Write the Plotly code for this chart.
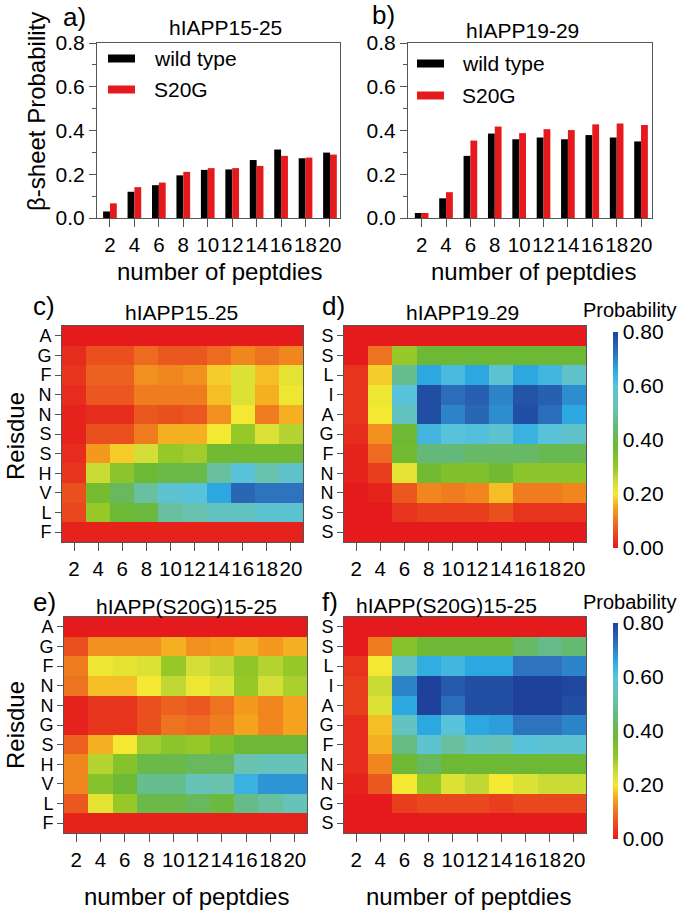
import plotly.graph_objects as go

W, H = 685, 913

# ---------------- data ----------------
peptides = [2, 4, 6, 8, 10, 12, 14, 16, 18, 20]

wt_15_25 = [0.030, 0.120, 0.150, 0.195, 0.220, 0.222, 0.265, 0.313, 0.273, 0.299]
s20g_15_25 = [0.067, 0.141, 0.162, 0.211, 0.228, 0.228, 0.238, 0.284, 0.276, 0.290]
wt_19_29 = [0.023, 0.090, 0.284, 0.386, 0.360, 0.368, 0.360, 0.379, 0.368, 0.350]
s20g_19_29 = [0.023, 0.118, 0.354, 0.418, 0.388, 0.406, 0.402, 0.428, 0.432, 0.425]

res_15_25 = ["A", "G", "F", "N", "N", "S", "S", "H", "V", "L", "F"]
res_19_29 = ["S", "S", "L", "I", "A", "G", "F", "N", "N", "S", "S"]
res_s20g_15_25 = ["A", "G", "F", "N", "N", "G", "S", "H", "V", "L", "F"]
res_s20g_19_29 = ["S", "S", "L", "I", "A", "G", "F", "N", "N", "G", "S"]

heat_15_25 = [
    [0.00, 0.00, 0.00, 0.00, 0.00, 0.00, 0.00, 0.00, 0.00, 0.00],
    [0.02, 0.06, 0.06, 0.09, 0.07, 0.07, 0.09, 0.12, 0.10, 0.12],
    [0.03, 0.08, 0.08, 0.13, 0.12, 0.13, 0.18, 0.23, 0.17, 0.22],
    [0.02, 0.07, 0.07, 0.11, 0.11, 0.11, 0.17, 0.23, 0.16, 0.21],
    [0.01, 0.02, 0.02, 0.07, 0.06, 0.07, 0.13, 0.20, 0.11, 0.16],
    [0.01, 0.06, 0.06, 0.11, 0.16, 0.16, 0.20, 0.30, 0.23, 0.27],
    [0.02, 0.14, 0.18, 0.24, 0.30, 0.29, 0.37, 0.37, 0.37, 0.37],
    [0.03, 0.25, 0.32, 0.38, 0.40, 0.40, 0.50, 0.60, 0.52, 0.57],
    [0.06, 0.36, 0.42, 0.50, 0.58, 0.60, 0.66, 0.74, 0.72, 0.72],
    [0.05, 0.30, 0.38, 0.39, 0.50, 0.52, 0.55, 0.55, 0.58, 0.58],
    [0.01, 0.01, 0.01, 0.01, 0.01, 0.01, 0.01, 0.01, 0.01, 0.01],
]

heat_19_29 = [
    [0.00, 0.00, 0.00, 0.00, 0.00, 0.00, 0.00, 0.00, 0.00, 0.00],
    [0.00, 0.10, 0.30, 0.38, 0.38, 0.38, 0.38, 0.38, 0.38, 0.38],
    [0.03, 0.18, 0.48, 0.66, 0.62, 0.66, 0.58, 0.66, 0.63, 0.57],
    [0.03, 0.21, 0.60, 0.78, 0.73, 0.75, 0.70, 0.77, 0.75, 0.69],
    [0.03, 0.20, 0.55, 0.78, 0.70, 0.74, 0.69, 0.78, 0.73, 0.66],
    [0.02, 0.13, 0.38, 0.63, 0.60, 0.61, 0.58, 0.64, 0.60, 0.57],
    [0.01, 0.09, 0.37, 0.45, 0.45, 0.43, 0.43, 0.43, 0.41, 0.41],
    [0.01, 0.04, 0.22, 0.37, 0.34, 0.34, 0.37, 0.32, 0.32, 0.32],
    [0.00, 0.01, 0.07, 0.12, 0.11, 0.12, 0.17, 0.11, 0.11, 0.12],
    [0.00, 0.00, 0.03, 0.04, 0.04, 0.04, 0.06, 0.03, 0.03, 0.03],
    [0.00, 0.00, 0.00, 0.00, 0.00, 0.00, 0.00, 0.00, 0.00, 0.00],
]

heat_s20g_15_25 = [
    [0.00, 0.00, 0.00, 0.00, 0.00, 0.00, 0.00, 0.00, 0.00, 0.00],
    [0.06, 0.13, 0.13, 0.13, 0.16, 0.13, 0.14, 0.16, 0.14, 0.16],
    [0.11, 0.21, 0.22, 0.23, 0.30, 0.24, 0.26, 0.31, 0.27, 0.30],
    [0.10, 0.17, 0.17, 0.20, 0.26, 0.21, 0.23, 0.30, 0.24, 0.28],
    [0.01, 0.03, 0.03, 0.06, 0.08, 0.07, 0.10, 0.14, 0.12, 0.15],
    [0.01, 0.03, 0.03, 0.06, 0.10, 0.09, 0.11, 0.15, 0.12, 0.15],
    [0.08, 0.16, 0.20, 0.29, 0.32, 0.30, 0.34, 0.38, 0.38, 0.38],
    [0.12, 0.27, 0.33, 0.40, 0.40, 0.42, 0.42, 0.52, 0.54, 0.54],
    [0.12, 0.33, 0.38, 0.48, 0.48, 0.53, 0.52, 0.64, 0.68, 0.68],
    [0.07, 0.22, 0.30, 0.40, 0.40, 0.42, 0.39, 0.47, 0.50, 0.54],
    [0.01, 0.01, 0.01, 0.01, 0.01, 0.01, 0.01, 0.01, 0.01, 0.01],
]

heat_s20g_19_29 = [
    [0.00, 0.00, 0.00, 0.00, 0.00, 0.00, 0.00, 0.00, 0.00, 0.00],
    [0.00, 0.11, 0.33, 0.38, 0.38, 0.38, 0.38, 0.43, 0.47, 0.44],
    [0.03, 0.20, 0.55, 0.65, 0.63, 0.66, 0.66, 0.72, 0.72, 0.70],
    [0.04, 0.25, 0.70, 0.80, 0.76, 0.78, 0.78, 0.80, 0.80, 0.79],
    [0.04, 0.23, 0.66, 0.80, 0.73, 0.78, 0.78, 0.80, 0.80, 0.78],
    [0.02, 0.17, 0.55, 0.66, 0.60, 0.66, 0.67, 0.72, 0.72, 0.70],
    [0.02, 0.16, 0.46, 0.58, 0.50, 0.55, 0.54, 0.60, 0.58, 0.58],
    [0.02, 0.12, 0.38, 0.42, 0.38, 0.38, 0.38, 0.38, 0.38, 0.38],
    [0.01, 0.07, 0.20, 0.30, 0.23, 0.26, 0.20, 0.23, 0.25, 0.25],
    [0.00, 0.00, 0.04, 0.05, 0.05, 0.05, 0.04, 0.05, 0.05, 0.05],
    [0.00, 0.00, 0.00, 0.00, 0.00, 0.00, 0.00, 0.00, 0.00, 0.00],
]

prob_ticks = [0.0, 0.2, 0.4, 0.6, 0.8]
bar_ticks = [0.0, 0.2, 0.4, 0.6, 0.8]

# ---------------- style ----------------
FONT = "Liberation Sans, Arial, sans-serif"
RED = "#e41a1c"
FRAME = "#555555"

colorscale = [
    [0.000, "rgb(228,26,28)"],
    [0.125, "rgb(238,115,32)"],
    [0.190, "rgb(245,165,30)"],
    [0.250, "rgb(245,232,50)"],
    [0.310, "rgb(205,220,55)"],
    [0.375, "rgb(150,200,40)"],
    [0.470, "rgb(110,185,50)"],
    [0.560, "rgb(100,185,120)"],
    [0.650, "rgb(105,195,175)"],
    [0.750, "rgb(90,195,220)"],
    [0.820, "rgb(45,170,225)"],
    [0.900, "rgb(45,115,190)"],
    [1.000, "rgb(30,65,155)"],
]


def fx(px):
    return px / W


def fy(py):
    return 1 - py / H


fig = go.Figure()

# bar charts
fig.add_trace(go.Bar(x=peptides, y=wt_15_25, marker=dict(color="black", line_width=0),
                     xaxis="x", yaxis="y", name="wild type", showlegend=False))
fig.add_trace(go.Bar(x=peptides, y=s20g_15_25, marker=dict(color=RED, line_width=0),
                     xaxis="x", yaxis="y", name="S20G", showlegend=False))
fig.add_trace(go.Bar(x=peptides, y=wt_19_29, marker=dict(color="black", line_width=0),
                     xaxis="x2", yaxis="y2", name="wild type", showlegend=False))
fig.add_trace(go.Bar(x=peptides, y=s20g_19_29, marker=dict(color=RED, line_width=0),
                     xaxis="x2", yaxis="y2", name="S20G", showlegend=False))

# heatmaps
rows = list(range(11))
fig.add_trace(go.Heatmap(x=peptides, y=rows, z=heat_15_25, coloraxis="coloraxis",
                         xaxis="x3", yaxis="y3"))
fig.add_trace(go.Heatmap(x=peptides, y=rows, z=heat_19_29, coloraxis="coloraxis",
                         xaxis="x4", yaxis="y4"))
fig.add_trace(go.Heatmap(x=peptides, y=rows, z=heat_s20g_15_25, coloraxis="coloraxis2",
                         xaxis="x5", yaxis="y5"))
fig.add_trace(go.Heatmap(x=peptides, y=rows, z=heat_s20g_19_29, coloraxis="coloraxis2",
                         xaxis="x6", yaxis="y6"))

tickfont = dict(family=FONT, size=21, color="black")
xtickfont = dict(family=FONT, size=20.5, color="black")


def bar_x(domain, rng, anchor):
    return dict(domain=[fx(domain[0]), fx(domain[1])], range=rng, tickvals=peptides,
                ticks="outside", ticklen=8, tickcolor=FRAME, tickangle=0,
                showline=True, linecolor=FRAME, linewidth=1, mirror=True, automargin=False,
                showgrid=False, zeroline=False, tickfont=xtickfont, anchor=anchor)


def bar_y(domain, anchor):
    return dict(domain=[fy(domain[1]), fy(domain[0])], range=[0, 0.8], tickvals=bar_ticks,
                tickformat=".1f", ticks="outside", ticklen=7, tickcolor=FRAME,
                minor=dict(dtick=0.1, ticks="outside", ticklen=4, tickcolor=FRAME),
                showline=True, linecolor=FRAME, linewidth=1, mirror=True, automargin=False,
                showgrid=False, zeroline=False, tickfont=tickfont, anchor=anchor)


def heat_x(domain, anchor):
    return dict(domain=[fx(domain[0]), fx(domain[1])], range=[1, 21], tickvals=peptides,
                ticks="outside", ticklen=8, tickcolor=FRAME, tickangle=0,
                showline=True, linecolor=FRAME, linewidth=1, mirror=True, automargin=False,
                showgrid=False, zeroline=False, tickfont=xtickfont, anchor=anchor)


def heat_y(domain, labels, anchor):
    return dict(domain=[fy(domain[1]), fy(domain[0])], range=[10.5, -0.5], tickvals=rows,
                ticktext=labels, ticks="outside", ticklen=6, tickcolor=FRAME,
                showline=True, linecolor=FRAME, linewidth=1, mirror=True, automargin=False,
                showgrid=False, zeroline=False,
                tickfont=dict(family=FONT, size=18, color="black"), anchor=anchor)


def cbar(ycenter):
    return dict(colorscale=colorscale, cmin=0, cmax=0.8,
                colorbar=dict(x=fx(613), xanchor="left", xpad=0, ypad=0,
                              y=fy(ycenter), yanchor="middle", len=216, lenmode="pixels",
                              thickness=5, outlinewidth=0, tickvals=prob_ticks,
                              tickformat=".2f", ticks="", tickfont=tickfont))


fig.update_layout(
    template="none",
    width=W, height=H,
    autosize=False,
    margin=dict(l=0, r=0, t=0, b=0, pad=0, autoexpand=False),
    paper_bgcolor="white", plot_bgcolor="white",
    font=dict(family=FONT, color="black"),
    barmode="group", bargap=0.44, bargroupgap=0,
    showlegend=False,
    xaxis=bar_x([97, 340], [0.94, 20.82], "y"),
    yaxis=bar_y([43, 218], "x"),
    xaxis2=bar_x([408, 652], [0.88, 20.9], "y2"),
    yaxis2=bar_y([43, 218], "x2"),
    xaxis3=heat_x([62, 303], "y3"),
    yaxis3=heat_y([326, 542], res_15_25, "x3"),
    xaxis4=heat_x([344, 586], "y4"),
    yaxis4=heat_y([326, 542], res_19_29, "x4"),
    xaxis5=heat_x([64, 307], "y5"),
    yaxis5=heat_y([617, 833], res_s20g_15_25, "x5"),
    xaxis6=heat_x([344, 586], "y6"),
    yaxis6=heat_y([617, 833], res_s20g_19_29, "x6"),
    coloraxis=cbar(440),
    coloraxis2=cbar(731),
)

annotations = []


def text(s, px, py, size=21, xanchor="center", angle=0):
    annotations.append(dict(text=s, x=fx(px), y=fy(py), xref="paper", yref="paper",
                            xanchor=xanchor, yanchor="middle", showarrow=False,
                            textangle=angle, font=dict(family=FONT, size=size, color="black")))


# panel letters
text("a)", 74, 17, 26)
text("b)", 383, 15, 26)
text("c)", 44, 306, 26)
text("d)", 333, 306, 26)
text("e)", 44, 602, 26)
text("f)", 330, 602, 26)

# panel titles
text("hIAPP15-25", 226, 28)
text("hIAPP19-29", 522, 30)
text("hIAPP15₋25", 181, 313)
text("hIAPP19₋29", 462, 313)
text("hIAPP(S20G)15-25", 186, 606)
text("hIAPP(S20G)15-25", 447, 605)

# axis titles
text("number of peptdies", 219, 271, 24)
text("number of peptdies", 533, 271, 24)
text("number of peptdies", 187, 896, 24)
text("number of peptdies", 468, 896, 24)
text("β-sheet Probability", 36, 112, 24, angle=-90)
text("Reisdue", 15, 436, 24, angle=-90)
text("Reisdue", 15, 725, 24, angle=-90)

# colorbar titles
text("Probability", 629, 310, 20)
text("Probability", 629, 602, 20)

# legends
legend_items = [
    ("wild type", "black", 108, 152, 58.5),
    ("S20G", RED, 108, 152, 89.5),
    ("wild type", "black", 417, 460, 63.5),
    ("S20G", RED, 417, 460, 95.5),
]
shapes = []
for label, col, x0, tx, yc in legend_items:
    shapes.append(dict(type="rect", xref="paper", yref="paper",
                       x0=fx(x0), x1=fx(x0 + 27), y0=fy(yc + 4), y1=fy(yc - 4),
                       fillcolor=col, line_width=0))
    text(label, tx, yc, 21, xanchor="left")

fig.update_layout(annotations=annotations, shapes=shapes)

fig.write_html("out.html", config={"displayModeBar": False, "staticPlot": True},
               post_script="document.body.style.margin='0px';")
